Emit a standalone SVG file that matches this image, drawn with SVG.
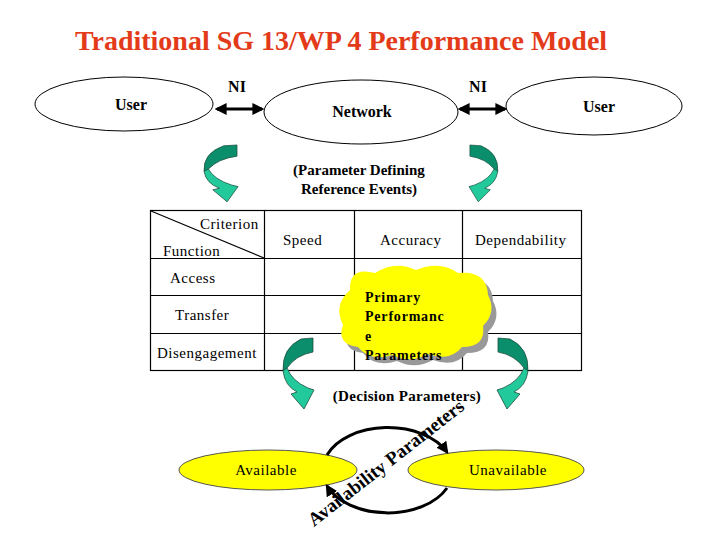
<svg xmlns="http://www.w3.org/2000/svg" xmlns:xlink="http://www.w3.org/1999/xlink" width="720" height="540" viewBox="0 0 720 540">
<style>
text{font-family:"Liberation Serif","Times New Roman","DejaVu Serif",serif}
.title{font-weight:bold;font-size:28px;fill:#E33B1A}
.b{font-weight:bold;fill:#000}
.r{font-size:15px;letter-spacing:0.5px;fill:#000}
.oval{fill:#fff;stroke:#000;stroke-width:1}
.yoval{fill:#FFFF00;stroke:#555;stroke-width:1}
.grid{stroke:#000;stroke-width:1.2;fill:none}
.conn{stroke:#000;stroke-width:3;fill:none}
.dark{fill:#0B8E6C;stroke:#1F4F40;stroke-width:0.8}
.light{fill:#22C99B;stroke:#1F4F40;stroke-width:0.8}
</style>
<defs>
<marker id="ah" markerUnits="userSpaceOnUse" markerWidth="12" markerHeight="12" viewBox="0 0 10 10" refX="8" refY="5" orient="auto-start-reverse">
<path d="M0,0 L10,5 L0,10 z" fill="#000"/>
</marker>
<g id="garrow">
<path class="dark" d="M301 339 L313 338 L313 352 Q296 355 287 368 L283 371 Q282 348 301 339 Z"/>
<path class="light" d="M283 371 L287 368 Q292 381 308 388 L314 390 L304 409 L291 394 L297 392 Q285 386 283 371 Z"/>
</g>
</defs>

<text class="title" x="341" y="50" text-anchor="middle">Traditional SG 13/WP 4 Performance Model</text>

<g id="user-left">
<ellipse class="oval" cx="124" cy="104" rx="89" ry="27"/>
<text class="b" x="131" y="110" font-size="16" text-anchor="middle">User</text>
</g>
<g id="network">
<ellipse class="oval" cx="361" cy="112" rx="97" ry="32"/>
<text class="b" x="362" y="117" font-size="16" text-anchor="middle">Network</text>
</g>
<g id="user-right">
<ellipse class="oval" cx="594" cy="106" rx="88" ry="29"/>
<text class="b" x="599" y="112" font-size="16" text-anchor="middle">User</text>
</g>

<g id="table">
<rect class="grid" x="150.5" y="210.5" width="431" height="160"/>
<path class="grid" d="M150 258.5 H582 M150 295.5 H582 M150 333.5 H582 M264.5 210 V371 M354.5 210 V371 M462.5 210 V371 M151 211 L264 258"/>
<text class="r" x="200" y="229">Criterion</text>
<text class="r" x="163" y="256">Function</text>
<text class="r" x="283" y="245">Speed</text>
<text class="r" x="380" y="245">Accuracy</text>
<text class="r" x="475" y="245">Dependability</text>
<text class="r" x="170" y="283">Access</text>
<text class="r" x="175" y="320">Transfer</text>
<text class="r" x="157" y="358" letter-spacing="0.2">Disengagement</text>
</g>

<g id="cloud">
<path fill="#999" transform="translate(5,6)" d="M350 290 Q349 266 375 273 Q395 260 416 270 Q440 260 458 273 Q487 270 488 295 Q497 312 483 326 Q486 347 462 347 Q450 362 428 354 Q410 364 392 355 Q370 362 358 347 Q336 344 343 325 Q333 305 350 290 Z"/>
<path fill="#FFFF00" d="M350 290 Q349 266 375 273 Q395 260 416 270 Q440 260 458 273 Q487 270 488 295 Q497 312 483 326 Q486 347 462 347 Q450 362 428 354 Q410 364 392 355 Q370 362 358 347 Q336 344 343 325 Q333 305 350 290 Z"/>
<text class="b" font-size="14" letter-spacing="0.8" x="365" y="302">Primary</text>
<text class="b" font-size="14" letter-spacing="0.8" x="365" y="321">Performanc</text>
<text class="b" font-size="14" letter-spacing="0.8" x="365" y="341">e</text>
<text class="b" font-size="14" letter-spacing="0.8" x="365" y="360">Parameters</text>
</g>

<g id="labels">
<text class="b" x="237" y="92" font-size="16" text-anchor="middle">NI</text>
<text class="b" x="478" y="92" font-size="16" text-anchor="middle">NI</text>
<text class="b" x="359" y="175" font-size="15" text-anchor="middle">(Parameter Defining</text>
<text class="b" x="359" y="194" font-size="15" text-anchor="middle">Reference Events)</text>
<text class="b" x="407" y="401" font-size="15" letter-spacing="0.3" text-anchor="middle">(Decision Parameters)</text>
</g>

<g id="available">
<ellipse class="yoval" cx="268" cy="470" rx="89" ry="20"/>
<text class="r" x="266" y="475" text-anchor="middle">Available</text>
</g>
<g id="unavailable">
<ellipse class="yoval" cx="496" cy="470" rx="88" ry="20"/>
<text class="r" x="508" y="475" text-anchor="middle">Unavailable</text>
</g>

<g id="connectors">
<line class="conn" x1="217" y1="109" x2="262" y2="109" marker-start="url(#ah)" marker-end="url(#ah)"/>
<line class="conn" x1="460" y1="109" x2="505" y2="109" marker-start="url(#ah)" marker-end="url(#ah)"/>
<use xlink:href="#garrow" transform="matrix(1.1 0 0 0.8 -107.3 -125.4)"/>
<use xlink:href="#garrow" transform="matrix(-0.93 0 0 0.8 761 -125.4)"/>
<use xlink:href="#garrow"/>
<use xlink:href="#garrow" transform="matrix(-1 0 0 1 811 0)"/>
<path class="conn" d="M327 455 A65 42 0 0 1 447 452" marker-end="url(#ah)"/>
<path class="conn" d="M447 488 A65 42 0 0 1 327 486" marker-end="url(#ah)"/>
</g>

<text class="b" font-size="19" x="314" y="527" transform="rotate(-38 314 527)">Availability Parameters</text>
</svg>
